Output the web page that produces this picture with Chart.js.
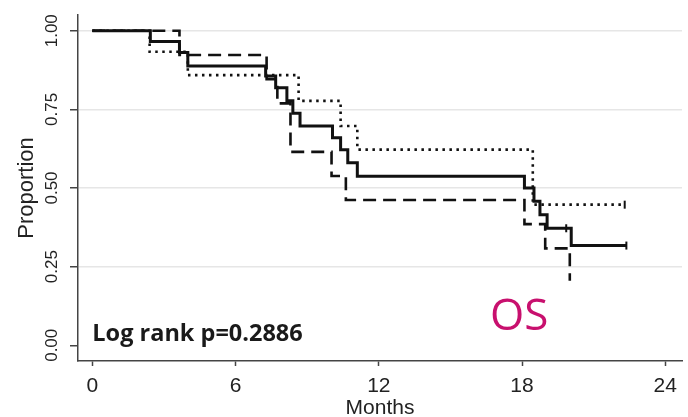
<!DOCTYPE html>
<html>
<head>
<meta charset="utf-8">
<script src="https://cdn.jsdelivr.net/npm/chart.js@4.4.1/dist/chart.umd.min.js"></script>
<style>
  html, body { margin: 0; padding: 0; background: #fff; }
  #wrap { width: 688px; height: 417px; }
</style>
</head>
<body>
<div id="wrap"><canvas id="km"></canvas></div>
<script>
// Kaplan-Meier estimates: event times (months) and survival proportion after each step
const monthsSolid  = [0, 2.43, 3.65, 4.0, 7.26, 7.68, 8.15, 8.4, 8.7, 10.06, 10.4, 10.7, 11.1, 18.1, 18.5, 18.75, 19.05, 20.06, 22.37];
const survSolid    = [1, 0.966, 0.931, 0.888, 0.856, 0.819, 0.777, 0.738, 0.697, 0.660, 0.622, 0.580, 0.537, 0.500, 0.458, 0.415, 0.372, 0.317, 0.317];
const monthsDashed = [0, 3.65, 7.3, 7.75, 8.3, 10.02, 10.62, 18.1, 18.97, 20.0];
const survDashed   = [1, 0.923, 0.846, 0.769, 0.615, 0.538, 0.462, 0.385, 0.308, 0.205];
const monthsDotted = [0, 2.4, 4.0, 8.64, 10.4, 11.1, 18.45, 22.3];
const survDotted   = [1, 0.933, 0.859, 0.777, 0.697, 0.622, 0.447, 0.447];
// censored observations
const censorMonths = [19.85, 22.37, 22.3];
const censorSurv   = [0.372, 0.317, 0.447];
// axes
const xTicks = [0, 6, 12, 18, 24];
const yTicks = [0, 0.25, 0.5, 0.75, 1];
const xTitle = 'Months';
const yTitle = 'Proportion';
const statText = 'Log rank p=0.2886';
const endpointText = 'OS';

const toPoints = (xs, ys) => xs.map((x, i) => ({ x, y: ys[i] }));

Chart.defaults.font.family = '"Liberation Sans", Arial, sans-serif';
Chart.defaults.color = '#222';

const curve = (data, dash, width) => ({
  data,
  showLine: true,
  stepped: 'before',
  borderColor: '#111',
  borderWidth: width,
  borderDash: dash,
  borderCapStyle: 'butt',
  pointRadius: 0,
  fill: false
});

const textNotes = {
  id: 'textNotes',
  afterDatasetsDraw(chart) {
    const { ctx, scales: { x, y } } = chart;
    ctx.save();
    ctx.textBaseline = 'alphabetic';
    ctx.textAlign = 'left';
    ctx.fillStyle = '#1a1a1a';
    ctx.font = 'bold 23.5px "Open Sans", sans-serif';
    ctx.fillText(statText, x.getPixelForValue(0), y.getPixelForValue(0.014));
    ctx.fillStyle = '#c8106e';
    ctx.font = '44px "Open Sans", sans-serif';
    ctx.fillText(endpointText, x.getPixelForValue(16.66), y.getPixelForValue(0.049));
    ctx.restore();
  }
};

new Chart(document.getElementById('km'), {
  type: 'scatter',
  data: {
    datasets: [
      Object.assign(curve(toPoints(monthsSolid, survSolid), [], 3), { order: 1 }),
      Object.assign(curve(toPoints(monthsDashed, survDashed), [13, 7], 2.6), { order: 2 }),
      Object.assign(curve(toPoints(monthsDotted, survDotted), [2.5, 4.5], 2.6), { order: 3 }),
      {
        data: toPoints(censorMonths, censorSurv),
        showLine: false,
        pointStyle: 'line',
        rotation: 90,
        pointRadius: 4,
        borderColor: '#111',
        borderWidth: 2,
        order: 0
      }
    ]
  },
  options: {
    responsive: true,
    maintainAspectRatio: false,
    animation: false,
    events: [],
    layout: { padding: { top: 15, right: 6, left: 0, bottom: 0 } },
    plugins: { legend: { display: false }, tooltip: { enabled: false } },
    scales: {
      x: {
        type: 'linear',
        min: -0.6,
        max: 24.7,
        afterFit: s => { s.height = 56; },
        afterBuildTicks: s => { s.ticks = xTicks.map(v => ({ value: v })); },
        ticks: { font: { size: 21 }, padding: 8, color: '#222', maxRotation: 0 },
        grid: { drawOnChartArea: false, tickLength: 5, tickColor: '#444', tickWidth: 1.5 },
        border: { color: '#444', width: 1.5 },
        title: { display: true, text: xTitle, font: { size: 21, lineHeight: 0.8 }, padding: { top: 0, bottom: 0 }, color: '#222' }
      },
      y: {
        min: -0.05,
        max: 1.05,
        afterFit: s => { s.width = 78; },
        afterBuildTicks: s => { s.ticks = yTicks.map(v => ({ value: v })); },
        ticks: {
          font: { size: 17 },
          padding: 1,
          color: '#222',
          minRotation: 90,
          maxRotation: 90,
          crossAlign: 'center',
          callback: v => Number(v).toFixed(2)
        },
        grid: {
          color: ctx => (ctx.tick && ctx.tick.value === 0 ? 'rgba(0,0,0,0)' : '#e6e6e6'),
          lineWidth: 1.5,
          tickLength: 8,
          tickColor: '#444',
          tickWidth: 1.5
        },
        border: { color: '#444', width: 1.5 },
        title: { display: true, text: yTitle, font: { size: 22 }, padding: { top: 14, bottom: 0 }, color: '#222' }
      }
    }
  },
  plugins: [textNotes]
});
</script>
</body>
</html>
